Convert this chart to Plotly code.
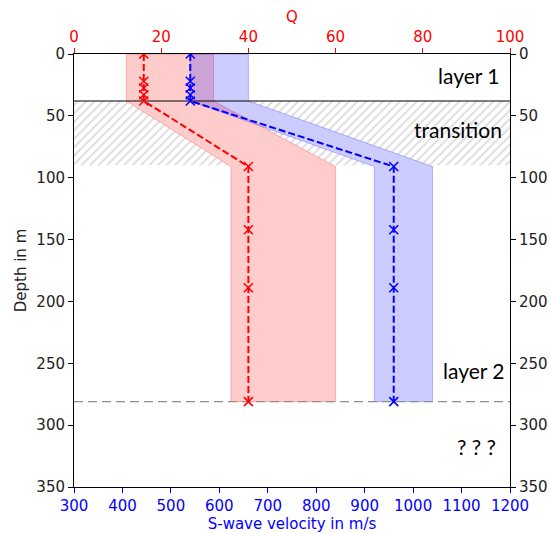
import plotly.graph_objects as go

# ---- data ----
depth_pts = [0, 22, 27.5, 33, 38, 91, 142, 189, 281]
vs_pts = [540, 540, 540, 540, 540, 960, 960, 960, 960]
q_pts = [16, 16, 16, 16, 16, 40, 40, 40, 40]

band_depth = [0, 38, 91, 281]
vs_low = [540, 540, 920, 920]
vs_high = [660, 660, 1040, 1040]
q_low = [12, 12, 36, 36]
q_high = [32, 32, 60, 60]

layer1_bottom = 38
transition_bottom = 90
layer2_bottom = 281

vs_range = [300, 1200]
q_range = [0, 100]
depth_range = [350, 0]

labels = ["layer 1", "transition", "layer 2", "? ? ?"]
label_depths = [17, 61, 256, 317]
label_x = [1183, 1188, 1193, 1176]

RED = "#ff0000"
BLUE = "#0000ff"
TICKFONT = dict(family="DejaVu Sans", size=15)


def q_to_vs(vals):
    # map Q values onto the shared (velocity) x scale; the top axis shows Q
    s = (vs_range[1] - vs_range[0]) / (q_range[1] - q_range[0])
    return [vs_range[0] + (v - q_range[0]) * s for v in vals]


fig = go.Figure()

# hatched transition zone
fig.add_trace(go.Scatter(
    x=[vs_range[0], vs_range[1], vs_range[1], vs_range[0], vs_range[0]],
    y=[layer1_bottom, layer1_bottom, transition_bottom, transition_bottom, layer1_bottom],
    fill="toself", mode="lines", line=dict(width=0),
    fillcolor="white",
    fillpattern=dict(shape="/", fgcolor="#b4b4b4", bgcolor="white", size=6, solidity=0.3),
    hoverinfo="skip", showlegend=False))


def poly(low, high, d):
    return low + high[::-1] + [low[0]], d + d[::-1] + [d[0]]


qx, qy = poly(q_to_vs(q_low), q_to_vs(q_high), band_depth)
vx, vy = poly(vs_low, vs_high, band_depth)

# white underlays so hatch does not show through the bands
for px, py in [(qx, qy), (vx, vy)]:
    fig.add_trace(go.Scatter(x=px, y=py, fill="toself", mode="lines", line=dict(width=0),
                             fillcolor="white", hoverinfo="skip", showlegend=False))
# coloured bands
fig.add_trace(go.Scatter(x=qx, y=qy, fill="toself", mode="lines",
                         line=dict(width=1, color="rgba(255,0,0,0.25)"),
                         fillcolor="rgba(255,0,0,0.2)", hoverinfo="skip", showlegend=False))
fig.add_trace(go.Scatter(x=vx, y=vy, fill="toself", mode="lines",
                         line=dict(width=1, color="rgba(0,0,255,0.25)"),
                         fillcolor="rgba(0,0,255,0.2)", hoverinfo="skip", showlegend=False))

# boundary lines
fig.add_trace(go.Scatter(x=vs_range, y=[layer1_bottom] * 2, mode="lines",
                         line=dict(color="black", width=1), showlegend=False))
fig.add_trace(go.Scatter(x=vs_range, y=[layer2_bottom] * 2, mode="lines",
                         line=dict(color="#909090", width=1.3, dash="9px,5px"), showlegend=False))

# profiles
fig.add_trace(go.Scatter(x=q_to_vs(q_pts), y=depth_pts, mode="lines+markers",
                         line=dict(color=RED, width=2, dash="7px,3px"),
                         marker=dict(symbol="x-thin", size=9, line=dict(color=RED, width=1.5)),
                         showlegend=False))
fig.add_trace(go.Scatter(x=vs_pts, y=depth_pts, mode="lines+markers",
                         line=dict(color=BLUE, width=2, dash="7px,3px"),
                         marker=dict(symbol="x-thin", size=9, line=dict(color=BLUE, width=1.5)),
                         showlegend=False))

# invisible traces to activate the top and right axes
fig.add_trace(go.Scatter(x=[q_range[0]], y=[0], mode="markers", marker=dict(opacity=0),
                         showlegend=False, hoverinfo="skip", xaxis="x2", yaxis="y"))
fig.add_trace(go.Scatter(x=[vs_range[0]], y=[0], mode="markers", marker=dict(opacity=0),
                         showlegend=False, hoverinfo="skip", xaxis="x", yaxis="y2"))

for t, d, xx in zip(labels, label_depths, label_x):
    fig.add_annotation(x=xx, y=d, xref="x", yref="y", text=t,
                       showarrow=False, xanchor="right", yanchor="middle",
                       font=dict(family="Lato", size=21, color="black"))

axis_common = dict(showgrid=False, zeroline=False, showline=True, linecolor="black",
                   linewidth=1, ticks="outside", ticklen=5, tickwidth=1, automargin=False)

fig.update_layout(
    width=550, height=533,
    margin=dict(l=74, r=40, t=54, b=46),
    plot_bgcolor="white", paper_bgcolor="white",
    xaxis=dict(range=vs_range, dtick=100, tickcolor=BLUE,
               tickfont=dict(color=BLUE, **TICKFONT),
               title=dict(text="S-wave velocity in m/s", font=dict(color=BLUE, **TICKFONT), standoff=2),
               **axis_common),
    xaxis2=dict(range=q_range, dtick=20, overlaying="x", side="top", tickcolor=RED,
                tickfont=dict(color=RED, **TICKFONT),
                title=dict(text="Q", font=dict(color=RED, **TICKFONT), standoff=1),
                **axis_common),
    yaxis=dict(range=depth_range, dtick=50, tickcolor="black",
               tickfont=dict(color="#222222", **TICKFONT),
               title=dict(text="Depth in m", font=dict(color="#222222", **TICKFONT), standoff=6),
               **axis_common),
    yaxis2=dict(range=depth_range, dtick=50, overlaying="y", side="right", tickcolor="black",
                tickfont=dict(color="#222222", **TICKFONT), **axis_common),
)

fig.write_html("out.html")
